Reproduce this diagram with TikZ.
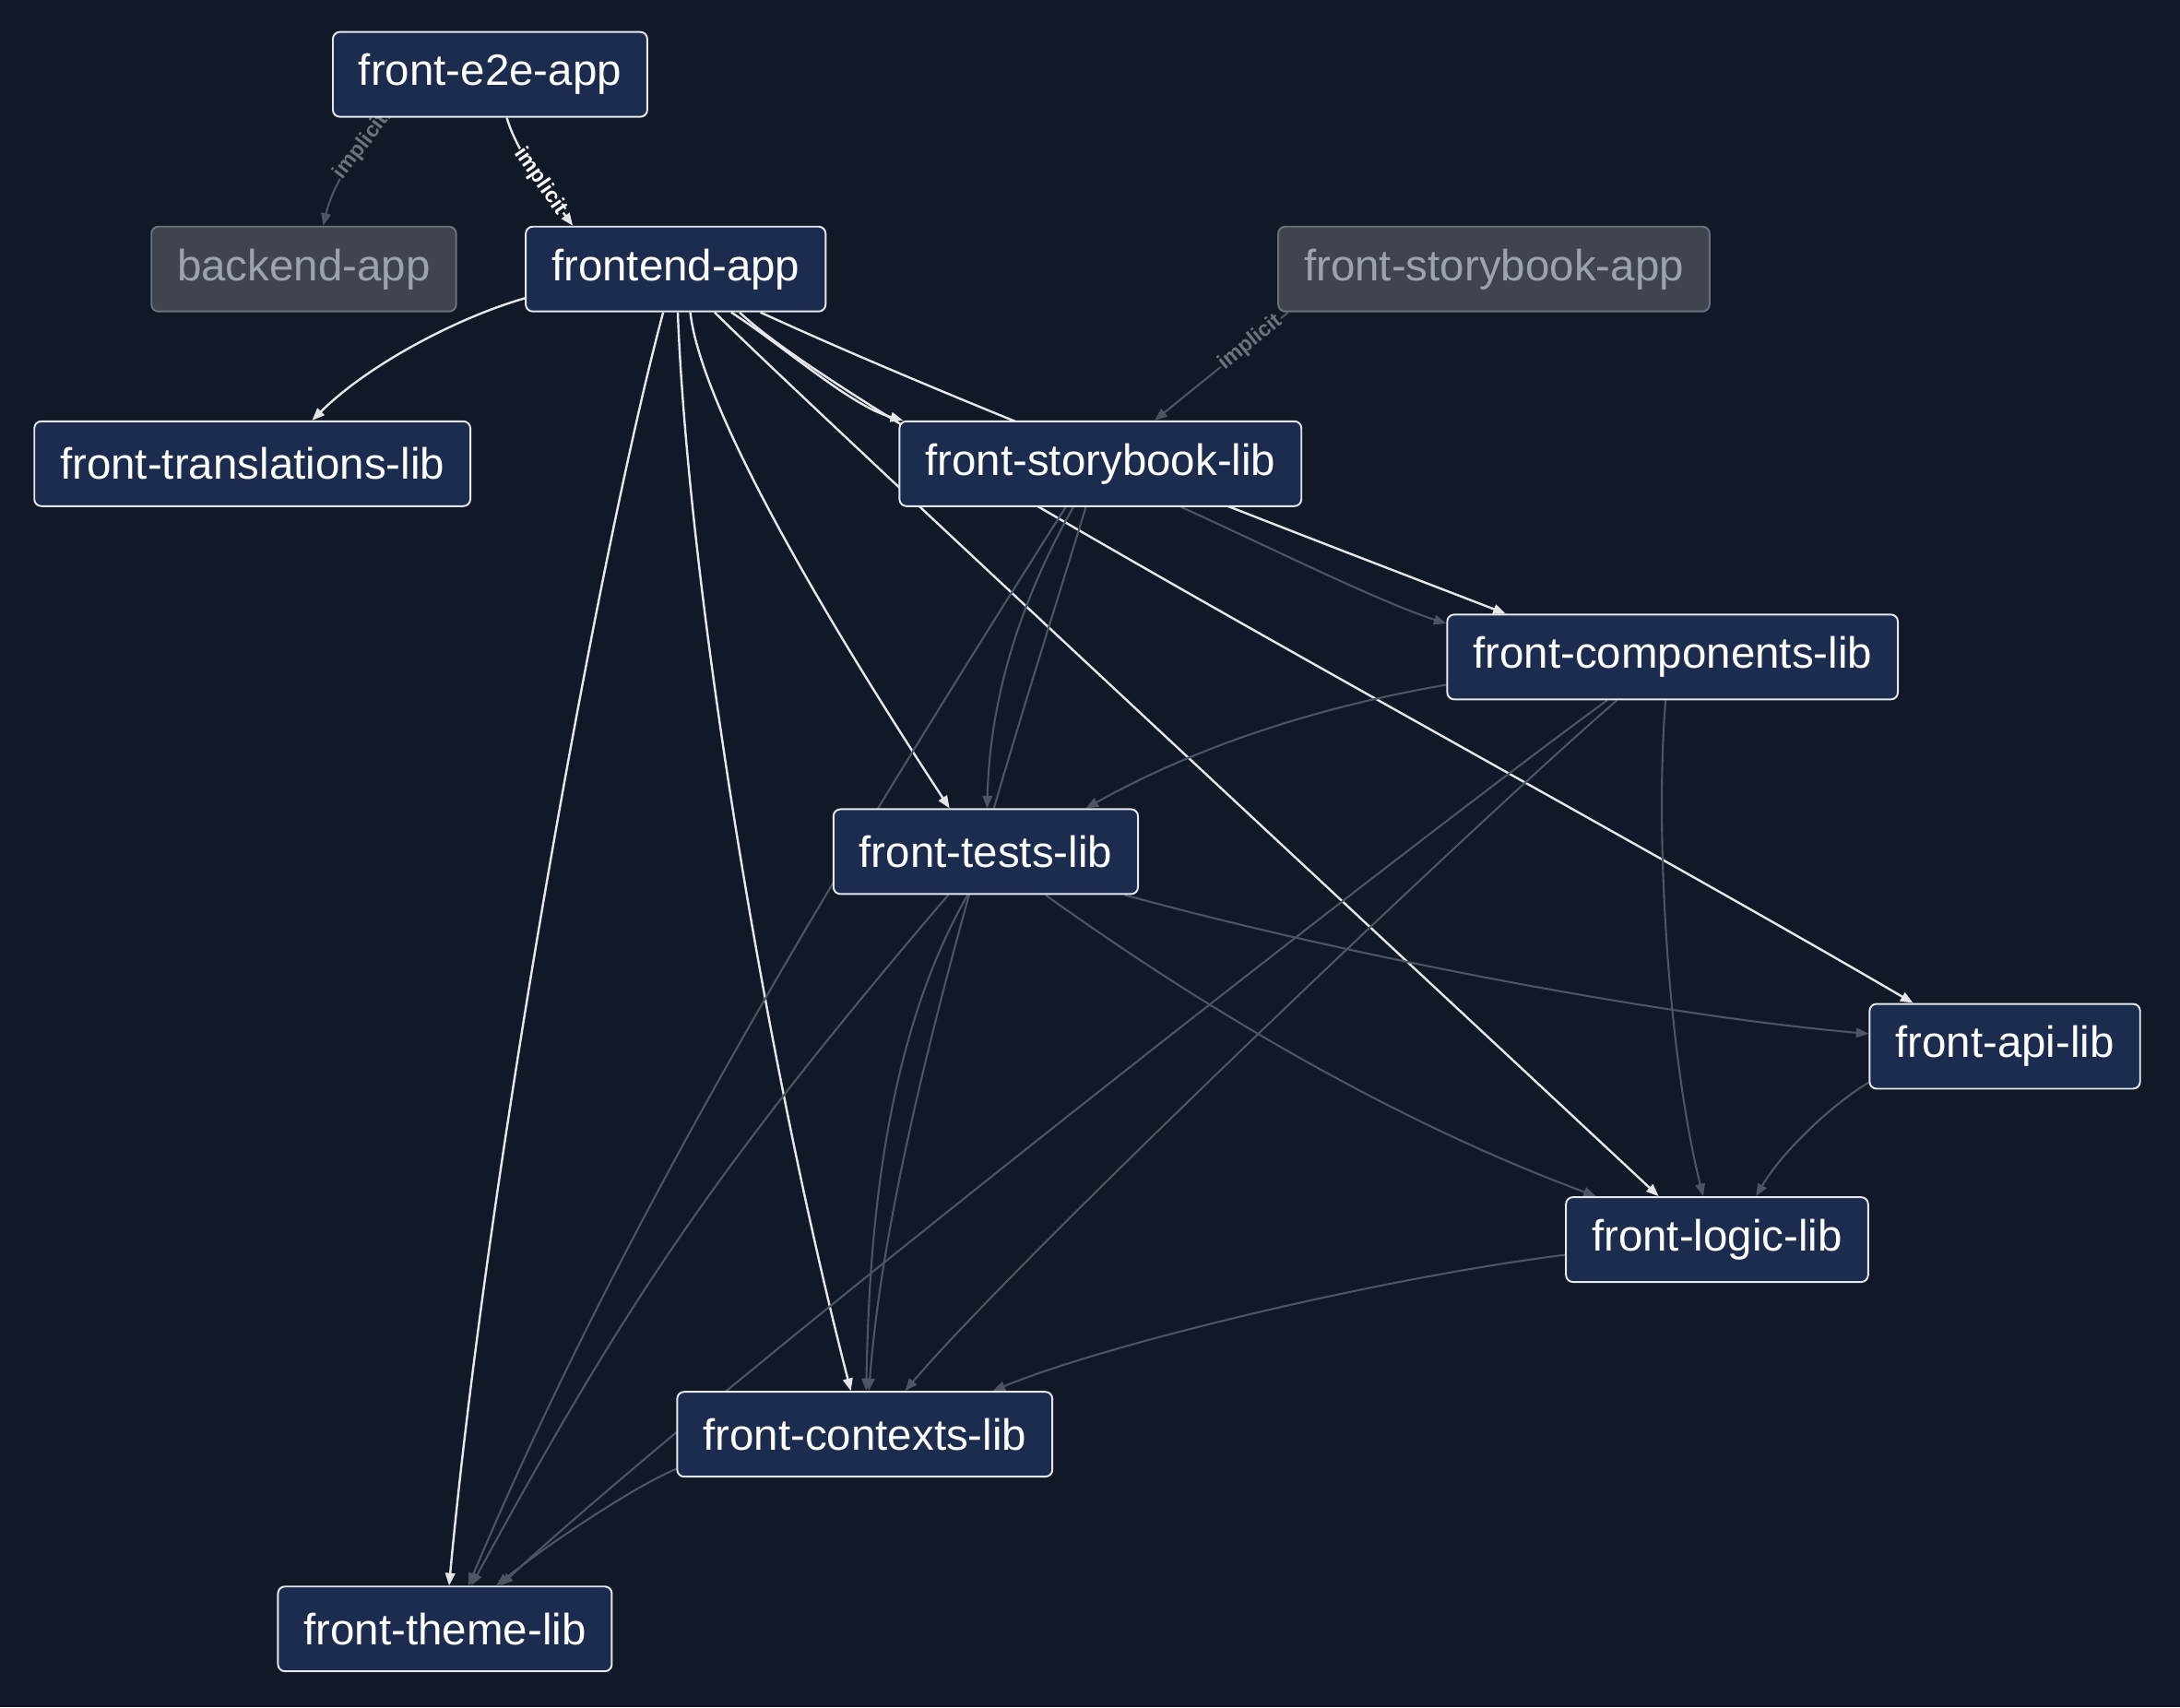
\documentclass[tikz,border=0pt]{standalone}
\usepackage{fontspec}
\setmainfont{Liberation Sans}
\usetikzlibrary{arrows.meta}
\definecolor{bgnavy}{HTML}{111827}
\definecolor{boxfill}{HTML}{1C2C4E}
\definecolor{boxline}{HTML}{E5E7EB}
\definecolor{dimfill}{HTML}{40444F}
\definecolor{dimline}{HTML}{6B7280}
\definecolor{dimtext}{HTML}{9CA3AF}
\definecolor{coldline}{HTML}{4B5563}
\pgfdeclarelayer{edgelayer}
\pgfsetlayers{edgelayer,main}

\begin{document}
\begin{tikzpicture}[x=1pt, y=-1pt,
    proj/.style={draw=boxline, fill=boxfill, text=white, line width=1.3pt, rounded corners=5pt,
      minimum height=61pt, inner xsep=18.5pt, font=\fontsize{31.5}{36}\selectfont},
    dimproj/.style={proj, draw=dimline, fill=dimfill, text=dimtext},
    hotedge/.style={draw=boxline, line width=1.6pt, -{Triangle[length=9pt,width=7pt]}},
    coldedge/.style={draw=coldline, line width=1.4pt, -{Triangle[length=9pt,width=7pt]}},
    hotlabel/.style={text=white, fill=bgnavy, font=\bfseries\fontsize{15.5}{17}\selectfont, inner sep=0.5pt},
    coldlabel/.style={hotlabel, text=dimline}]
\useasboundingbox (0,0) rectangle (1568,1228);

% projects
\node[proj] (e2e) at (352.5,53.5) {front-e2e-app};
\node[dimproj] (backend) at (218.5,193.5) {backend-app};
\node[proj] (frontend) at (486,193.5) {frontend-app};
\node[dimproj] (sbapp) at (1074.5,193.5) {front-storybook-app};
\node[proj] (translations) at (181.5,333.5) {front-translations-lib};
\node[proj] (sblib) at (791.5,333.5) {front-storybook-lib};
\node[proj] (components) at (1203,472.5) {front-components-lib};
\node[proj] (tests) at (709,612.5) {front-tests-lib};
\node[proj] (api) at (1442,752.5) {front-api-lib};
\node[proj] (logic) at (1235,891.5) {front-logic-lib};
\node[proj] (contexts) at (622,1031.5) {front-contexts-lib};
\node[proj] (theme) at (320,1171.5) {front-theme-lib};

\begin{pgfonlayer}{edgelayer}
\fill[bgnavy] (0,0) rectangle (1568,1228);
% dependencies of frontend-app
\draw[hotedge] ([xshift=12pt]e2e.south) .. controls (372,110) and (392,135) .. ([xshift=-74pt]frontend.north)
    node[pos=0.6, sloped, hotlabel] {implicit};
\draw[hotedge] ([yshift=-21pt]frontend.west) .. controls (330,228) and (265,262) .. ([xshift=43pt]translations.north);
\draw[hotedge] ([xshift=-9pt]frontend.south) .. controls (430,400) and (350,850) .. ([xshift=3pt]theme.north);
\draw[hotedge] ([xshift=1.5pt]frontend.south) .. controls (495,420) and (550,760) .. ([xshift=-10pt]contexts.north);
\draw[hotedge] ([xshift=10.5pt]frontend.south) .. controls (505,300) and (610,470) .. ([xshift=-26pt]tests.north);
\draw[hotedge] ([xshift=28pt]frontend.south) .. controls (580,290) and (1000,680) .. ([xshift=-42pt]logic.north);
\draw[hotedge] ([xshift=40pt]frontend.south) .. controls (565,250) and (612,292) .. ([xshift=-142pt]sblib.north);
\draw[hotedge] ([xshift=46pt]frontend.south) .. controls (610,300) and (1100,560) .. ([xshift=-66pt]api.north);
\draw[hotedge] ([xshift=61pt]frontend.south) .. controls (700,295) and (950,390) .. ([xshift=-120pt]components.north);
% the other dependencies
\draw[coldedge] ([xshift=-72pt]e2e.south) .. controls (262,98) and (240,130) .. ([xshift=14pt]backend.north)
    node[pos=0.36, sloped, coldlabel] {implicit};
\draw[coldedge] ([xshift=-148pt]sbapp.south) -- ([xshift=39pt]sblib.north)
    node[pos=0.28, sloped, coldlabel] {implicit};
\draw[coldedge] ([xshift=58pt]sblib.south) .. controls (910,392) and (990,432) .. ([yshift=24pt]components.west);
\draw[coldedge] ([xshift=-19.5pt]sblib.south) .. controls (735,430) and (712,500) .. ([xshift=1pt]tests.north);
\draw[coldedge] ([xshift=-10.5pt]sblib.south) .. controls (740,500) and (640,800) .. ([xshift=3pt]contexts.north);
\draw[coldedge] ([xshift=-25pt]sblib.south) .. controls (602,624) and (447,879) .. ([xshift=17pt]theme.north);
\draw[coldedge] ([yshift=-20pt]components.west) .. controls (950,508) and (862,536) .. ([xshift=72pt]tests.north);
\draw[coldedge] ([xshift=-40pt]components.south) .. controls (1063,590) and (731,906) .. ([xshift=29pt]contexts.north);
\draw[coldedge] ([xshift=-47pt]components.south) .. controls (1030,595) and (510,1000) .. ([xshift=40pt]theme.north);
\draw[coldedge] ([xshift=-5pt]components.south) .. controls (1190,600) and (1200,760) .. ([xshift=-10pt]logic.north);
\draw[coldedge] ([xshift=-13pt]tests.south) .. controls (633,753) and (625,900) .. ([xshift=1pt]contexts.north);
\draw[coldedge] ([xshift=-27pt]tests.south) .. controls (512,843) and (449,939) .. ([xshift=19pt]theme.north);
\draw[coldedge] ([xshift=43pt]tests.south) .. controls (882,737) and (1017,812) .. ([xshift=-87pt]logic.north);
\draw[coldedge] ([xshift=100pt]tests.south) .. controls (963,686) and (1190,730) .. ([yshift=9pt]api.west);
\draw[coldedge] ([yshift=-26pt]api.west) .. controls (1318,794) and (1282,828) .. ([xshift=28pt]logic.north);
\draw[coldedge] ([yshift=-11pt]logic.west) .. controls (1000,918) and (800,965) .. ([xshift=92pt]contexts.north);
\draw[coldedge] ([yshift=-25pt]contexts.west) .. controls (462,1066) and (400,1106) .. ([xshift=37pt]theme.north);
\end{pgfonlayer}
\end{tikzpicture}
\end{document}
